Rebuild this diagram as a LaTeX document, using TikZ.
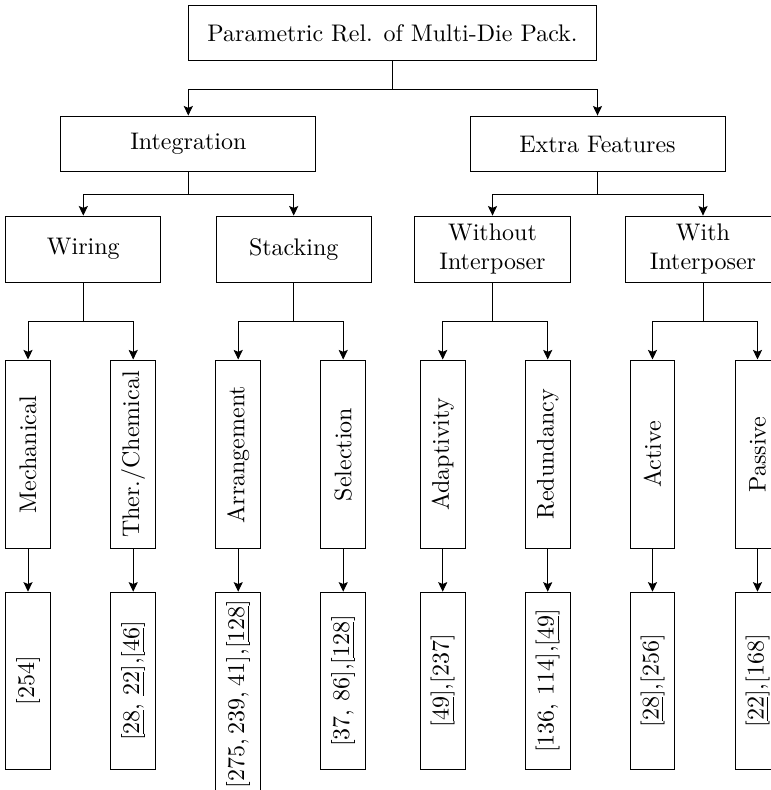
\documentclass[tikz,border=0pt]{standalone}
\usetikzlibrary{arrows.meta}

% underlined citation number, as produced by link borders
\newsavebox\citebox
\newcommand\lnk[1]{\sbox\citebox{#1}\rlap{\rule[-2pt]{\wd\citebox}{0.4pt}}\usebox\citebox}

\begin{document}
\begin{tikzpicture}[x=0.41667pt,y=-0.41667pt,
  box/.style={draw, line width=0.4pt, inner sep=0pt, align=center},
  rootbox/.style={box, minimum width=170.2pt, minimum height=23.3pt},
  groupbox/.style={box, minimum width=106.25pt, minimum height=23.3pt},
  subbox/.style={box, minimum width=64.7pt, minimum height=27.6pt},
  leafbox/.style={draw, line width=0.4pt, rotate=90, anchor=east,
    minimum width=78.7pt, minimum height=18.6pt, inner sep=3.33pt},
  refbox/.style={draw, line width=0.4pt, rotate=90, anchor=east,
    minimum width=73.9pt, minimum height=18.6pt, inner sep=3.33pt},
  link/.style={-{Stealth[length=4pt,width=3.8pt,inset=0.8pt]}, line width=0.4pt}
]
\useasboundingbox (0,0) rectangle (771,790);
\clip (0,0) rectangle (771,790);

% top levels
\node[rootbox] (root) at (392.5,33) {Parametric Rel. of Multi-Die Pack.};
\node[groupbox] (integ) at (188.3,144) {Integration};
\node[groupbox] (extra) at (597.5,144) {Extra Features};

\node[subbox] (wir) at (83.3,249.2) {Wiring};
\node[subbox] (stk) at (293.7,249.2) {Stacking};
\node[subbox] (wo) at (492.5,249.2) {Without\\Interposer};
\node[subbox] (wi) at (703,249.2) {With\\Interposer};

% categories (rotated)
\node[leafbox] (mech) at (28,359.5) {Mechanical};
\node[leafbox] (ther) at (133.2,359.5) {Ther./Chemical};
\node[leafbox] (arrg) at (238.2,359.5) {Arrangement};
\node[leafbox] (sel) at (343.2,359.5) {Selection};
\node[leafbox] (adap) at (442.7,359.5) {Adaptivity};
\node[leafbox] (red) at (547.7,359.5) {Redundancy};
\node[leafbox] (act) at (652.5,359.5) {Active};
\node[leafbox] (pas) at (757.5,359.5) {Passive};

% references
\node[refbox] (rmech) at (28,591.7) {[254]};
\node[refbox] (rther) at (133.2,591.7) {[\lnk{28}, \lnk{22}],[\lnk{46}]};
\node[refbox, inner sep=3pt] (rarrg) at (238.2,591.7)
  {[275,\hspace{2.2pt}239,\hspace{2.2pt}41],[\lnk{128}]};
\node[refbox] (rsel) at (343.2,591.7) {[37, 86],[\lnk{128}]};
\node[refbox] (radap) at (442.7,591.7) {[\lnk{49}],[237]};
\node[refbox] (rred) at (547.7,591.7) {[136, 114],[\lnk{49}]};
\node[refbox] (ract) at (652.5,591.7) {[\lnk{28}],[256]};
\node[refbox] (rpas) at (757.5,591.7) {[\lnk{22}],[168]};

% connectors
\draw[link] (root.south) -- ++(0,27.7) -| (integ.north);
\draw[link] (root.south) -- ++(0,27.7) -| (extra.north);

\draw[link] (integ.south) -- ++(0,21.7) -| (wir.north);
\draw[link] (integ.south) -- ++(0,21.7) -| (stk.north);
\draw[link] (extra.south) -- ++(0,21.7) -| (wo.north);
\draw[link] (extra.south) -- ++(0,21.7) -| (wi.north);

\draw[link] (wir.south) -- ++(0,38.7) -| (mech.east);
\draw[link] (wir.south) -- ++(0,38.7) -| (ther.east);
\draw[link] (stk.south) -- ++(0,38.7) -| (arrg.east);
\draw[link] (stk.south) -- ++(0,38.7) -| (sel.east);
\draw[link] (wo.south) -- ++(0,38.7) -| (adap.east);
\draw[link] (wo.south) -- ++(0,38.7) -| (red.east);
\draw[link] (wi.south) -- ++(0,38.7) -| (act.east);
\draw[link] (wi.south) -- ++(0,38.7) -| (pas.east);

\draw[link] (mech.west) -- (rmech.east);
\draw[link] (ther.west) -- (rther.east);
\draw[link] (arrg.west) -- (rarrg.east);
\draw[link] (sel.west) -- (rsel.east);
\draw[link] (adap.west) -- (radap.east);
\draw[link] (red.west) -- (rred.east);
\draw[link] (act.west) -- (ract.east);
\draw[link] (pas.west) -- (rpas.east);
\end{tikzpicture}
\end{document}
